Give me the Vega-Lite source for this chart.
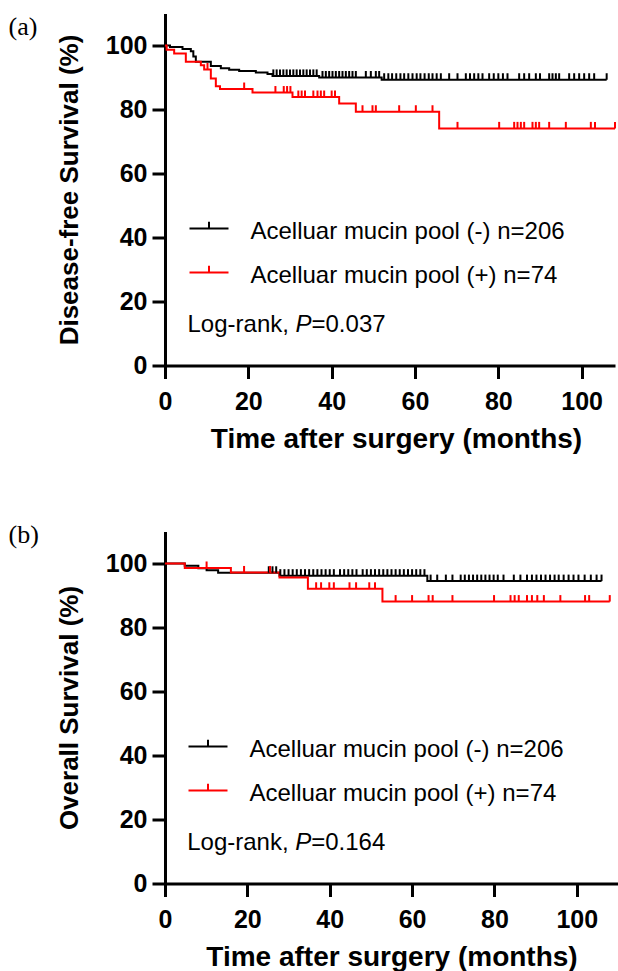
{
  "$schema": "https://vega.github.io/schema/vega-lite/v6.json",
  "padding": {"left": 8, "top": 13.5, "right": 0, "bottom": 0},
  "background": "white",
  "config": {
    "view": {"stroke": null},
    "font": "Liberation Sans",
    "axis": {
      "domainColor": "#000000", "domainWidth": 3, "tickColor": "#000000", "tickWidth": 3, "tickSize": 13,
      "labelFont": "Liberation Sans", "labelFontSize": 25, "labelFontWeight": "bold", "labelColor": "#000000",
      "titleFont": "Liberation Sans", "titleFontWeight": "bold", "titleColor": "#000000",
      "grid": false, "labelFlush": false, "labelOverlap": false
    }
  },
  "datasets": {
    "dfs": [
      {"group": "-", "kind": "step", "month": 0, "surv": 100},
      {"group": "-", "kind": "step", "month": 1.2, "surv": 99.5},
      {"group": "-", "kind": "step", "month": 4.2, "surv": 98.9},
      {"group": "-", "kind": "step", "month": 6.2, "surv": 98.2},
      {"group": "-", "kind": "step", "month": 6.8, "surv": 96.6},
      {"group": "-", "kind": "step", "month": 7.4, "surv": 94.9},
      {"group": "-", "kind": "step", "month": 11, "surv": 93.6},
      {"group": "-", "kind": "step", "month": 13.4, "surv": 92.9},
      {"group": "-", "kind": "step", "month": 15.4, "surv": 92.4},
      {"group": "-", "kind": "step", "month": 17.8, "surv": 92.0},
      {"group": "-", "kind": "step", "month": 21.8, "surv": 91.6},
      {"group": "-", "kind": "step", "month": 24.6, "surv": 91.1},
      {"group": "-", "kind": "step", "month": 25.8, "surv": 90.5},
      {"group": "-", "kind": "step", "month": 37, "surv": 90.0},
      {"group": "-", "kind": "step", "month": 52, "surv": 89.3},
      {"group": "-", "kind": "step", "month": 106, "surv": 89.3},
      {"group": "+", "kind": "step", "month": 0, "surv": 100},
      {"group": "+", "kind": "step", "month": 0.4, "surv": 98.7},
      {"group": "+", "kind": "step", "month": 2.2, "surv": 97.5},
      {"group": "+", "kind": "step", "month": 5.0, "surv": 94.9},
      {"group": "+", "kind": "step", "month": 8.6, "surv": 93.8},
      {"group": "+", "kind": "step", "month": 9.4, "surv": 92.5},
      {"group": "+", "kind": "step", "month": 11, "surv": 89.7},
      {"group": "+", "kind": "step", "month": 12.2, "surv": 87.3},
      {"group": "+", "kind": "step", "month": 13.2, "surv": 86.4},
      {"group": "+", "kind": "step", "month": 21, "surv": 85.3},
      {"group": "+", "kind": "step", "month": 30.6, "surv": 83.9},
      {"group": "+", "kind": "step", "month": 41.8, "surv": 81.9},
      {"group": "+", "kind": "step", "month": 45.8, "surv": 79.3},
      {"group": "+", "kind": "step", "month": 65.8, "surv": 74.1},
      {"group": "+", "kind": "step", "month": 108, "surv": 74.1},
      {"group": "-", "kind": "censor", "month": 26.0, "surv": 90.5},
      {"group": "-", "kind": "censor", "month": 26.8, "surv": 90.5},
      {"group": "-", "kind": "censor", "month": 27.6, "surv": 90.5},
      {"group": "-", "kind": "censor", "month": 28.4, "surv": 90.5},
      {"group": "-", "kind": "censor", "month": 29.2, "surv": 90.5},
      {"group": "-", "kind": "censor", "month": 30.0, "surv": 90.5},
      {"group": "-", "kind": "censor", "month": 30.8, "surv": 90.5},
      {"group": "-", "kind": "censor", "month": 31.6, "surv": 90.5},
      {"group": "-", "kind": "censor", "month": 32.4, "surv": 90.5},
      {"group": "-", "kind": "censor", "month": 33.2, "surv": 90.5},
      {"group": "-", "kind": "censor", "month": 34.0, "surv": 90.5},
      {"group": "-", "kind": "censor", "month": 34.8, "surv": 90.5},
      {"group": "-", "kind": "censor", "month": 35.6, "surv": 90.5},
      {"group": "-", "kind": "censor", "month": 36.4, "surv": 90.5},
      {"group": "-", "kind": "censor", "month": 37.8, "surv": 90.0},
      {"group": "-", "kind": "censor", "month": 38.6, "surv": 90.0},
      {"group": "-", "kind": "censor", "month": 39.4, "surv": 90.0},
      {"group": "-", "kind": "censor", "month": 40.2, "surv": 90.0},
      {"group": "-", "kind": "censor", "month": 41.0, "surv": 90.0},
      {"group": "-", "kind": "censor", "month": 41.8, "surv": 90.0},
      {"group": "-", "kind": "censor", "month": 42.6, "surv": 90.0},
      {"group": "-", "kind": "censor", "month": 43.4, "surv": 90.0},
      {"group": "-", "kind": "censor", "month": 44.2, "surv": 90.0},
      {"group": "-", "kind": "censor", "month": 45.0, "surv": 90.0},
      {"group": "-", "kind": "censor", "month": 45.8, "surv": 90.0},
      {"group": "-", "kind": "censor", "month": 48.2, "surv": 90.0},
      {"group": "-", "kind": "censor", "month": 49.4, "surv": 90.0},
      {"group": "-", "kind": "censor", "month": 50.6, "surv": 90.0},
      {"group": "-", "kind": "censor", "month": 51.4, "surv": 90.0},
      {"group": "-", "kind": "censor", "month": 52.6, "surv": 89.3},
      {"group": "-", "kind": "censor", "month": 53.6, "surv": 89.3},
      {"group": "-", "kind": "censor", "month": 54.5, "surv": 89.3},
      {"group": "-", "kind": "censor", "month": 55.5, "surv": 89.3},
      {"group": "-", "kind": "censor", "month": 56.5, "surv": 89.3},
      {"group": "-", "kind": "censor", "month": 57.4, "surv": 89.3},
      {"group": "-", "kind": "censor", "month": 58.4, "surv": 89.3},
      {"group": "-", "kind": "censor", "month": 59.4, "surv": 89.3},
      {"group": "-", "kind": "censor", "month": 60.4, "surv": 89.3},
      {"group": "-", "kind": "censor", "month": 61.3, "surv": 89.3},
      {"group": "-", "kind": "censor", "month": 62.3, "surv": 89.3},
      {"group": "-", "kind": "censor", "month": 63.3, "surv": 89.3},
      {"group": "-", "kind": "censor", "month": 64.2, "surv": 89.3},
      {"group": "-", "kind": "censor", "month": 65.2, "surv": 89.3},
      {"group": "-", "kind": "censor", "month": 66.2, "surv": 89.3},
      {"group": "-", "kind": "censor", "month": 68.2, "surv": 89.3},
      {"group": "-", "kind": "censor", "month": 70.2, "surv": 89.3},
      {"group": "-", "kind": "censor", "month": 72.2, "surv": 89.3},
      {"group": "-", "kind": "censor", "month": 73.2, "surv": 89.3},
      {"group": "-", "kind": "censor", "month": 74.2, "surv": 89.3},
      {"group": "-", "kind": "censor", "month": 75.2, "surv": 89.3},
      {"group": "-", "kind": "censor", "month": 76.2, "surv": 89.3},
      {"group": "-", "kind": "censor", "month": 77.8, "surv": 89.3},
      {"group": "-", "kind": "censor", "month": 78.9, "surv": 89.3},
      {"group": "-", "kind": "censor", "month": 80.0, "surv": 89.3},
      {"group": "-", "kind": "censor", "month": 81.1, "surv": 89.3},
      {"group": "-", "kind": "censor", "month": 82.2, "surv": 89.3},
      {"group": "-", "kind": "censor", "month": 85.0, "surv": 89.3},
      {"group": "-", "kind": "censor", "month": 86.2, "surv": 89.3},
      {"group": "-", "kind": "censor", "month": 87.4, "surv": 89.3},
      {"group": "-", "kind": "censor", "month": 89.0, "surv": 89.3},
      {"group": "-", "kind": "censor", "month": 90.0, "surv": 89.3},
      {"group": "-", "kind": "censor", "month": 92.2, "surv": 89.3},
      {"group": "-", "kind": "censor", "month": 93.0, "surv": 89.3},
      {"group": "-", "kind": "censor", "month": 93.8, "surv": 89.3},
      {"group": "-", "kind": "censor", "month": 94.6, "surv": 89.3},
      {"group": "-", "kind": "censor", "month": 97.0, "surv": 89.3},
      {"group": "-", "kind": "censor", "month": 98.2, "surv": 89.3},
      {"group": "-", "kind": "censor", "month": 99.4, "surv": 89.3},
      {"group": "-", "kind": "censor", "month": 100.6, "surv": 89.3},
      {"group": "-", "kind": "censor", "month": 101.8, "surv": 89.3},
      {"group": "-", "kind": "censor", "month": 103.0, "surv": 89.3},
      {"group": "-", "kind": "censor", "month": 106.0, "surv": 89.3},
      {"group": "+", "kind": "censor", "month": 10.2, "surv": 92.5},
      {"group": "+", "kind": "censor", "month": 19.0, "surv": 86.4},
      {"group": "+", "kind": "censor", "month": 26.5, "surv": 85.3},
      {"group": "+", "kind": "censor", "month": 28.5, "surv": 85.3},
      {"group": "+", "kind": "censor", "month": 29.3, "surv": 85.3},
      {"group": "+", "kind": "censor", "month": 30.1, "surv": 85.3},
      {"group": "+", "kind": "censor", "month": 32.0, "surv": 83.9},
      {"group": "+", "kind": "censor", "month": 32.8, "surv": 83.9},
      {"group": "+", "kind": "censor", "month": 33.6, "surv": 83.9},
      {"group": "+", "kind": "censor", "month": 35.6, "surv": 83.9},
      {"group": "+", "kind": "censor", "month": 36.6, "surv": 83.9},
      {"group": "+", "kind": "censor", "month": 37.4, "surv": 83.9},
      {"group": "+", "kind": "censor", "month": 38.2, "surv": 83.9},
      {"group": "+", "kind": "censor", "month": 40.0, "surv": 83.9},
      {"group": "+", "kind": "censor", "month": 40.8, "surv": 83.9},
      {"group": "+", "kind": "censor", "month": 47.4, "surv": 79.3},
      {"group": "+", "kind": "censor", "month": 49.8, "surv": 79.3},
      {"group": "+", "kind": "censor", "month": 50.6, "surv": 79.3},
      {"group": "+", "kind": "censor", "month": 56.2, "surv": 79.3},
      {"group": "+", "kind": "censor", "month": 60.2, "surv": 79.3},
      {"group": "+", "kind": "censor", "month": 64.2, "surv": 79.3},
      {"group": "+", "kind": "censor", "month": 70.2, "surv": 74.1},
      {"group": "+", "kind": "censor", "month": 80.2, "surv": 74.1},
      {"group": "+", "kind": "censor", "month": 83.8, "surv": 74.1},
      {"group": "+", "kind": "censor", "month": 84.6, "surv": 74.1},
      {"group": "+", "kind": "censor", "month": 85.4, "surv": 74.1},
      {"group": "+", "kind": "censor", "month": 86.2, "surv": 74.1},
      {"group": "+", "kind": "censor", "month": 88.2, "surv": 74.1},
      {"group": "+", "kind": "censor", "month": 89.0, "surv": 74.1},
      {"group": "+", "kind": "censor", "month": 89.8, "surv": 74.1},
      {"group": "+", "kind": "censor", "month": 92.2, "surv": 74.1},
      {"group": "+", "kind": "censor", "month": 96.2, "surv": 74.1},
      {"group": "+", "kind": "censor", "month": 102.2, "surv": 74.1},
      {"group": "+", "kind": "censor", "month": 103.2, "surv": 74.1},
      {"group": "+", "kind": "censor", "month": 108.0, "surv": 74.1}
    ],
    "os": [
      {"group": "-", "kind": "step", "month": 0, "surv": 100},
      {"group": "-", "kind": "step", "month": 4.8, "surv": 99.3},
      {"group": "-", "kind": "step", "month": 8.1, "surv": 98.5},
      {"group": "-", "kind": "step", "month": 10.1, "surv": 97.9},
      {"group": "-", "kind": "step", "month": 12.9, "surv": 97.1},
      {"group": "-", "kind": "step", "month": 27.8, "surv": 96.2},
      {"group": "-", "kind": "step", "month": 63.7, "surv": 94.5},
      {"group": "-", "kind": "step", "month": 106, "surv": 94.5},
      {"group": "+", "kind": "step", "month": 0, "surv": 100},
      {"group": "+", "kind": "step", "month": 4.8, "surv": 98.6},
      {"group": "+", "kind": "step", "month": 16, "surv": 97.2},
      {"group": "+", "kind": "step", "month": 27.8, "surv": 95.6},
      {"group": "+", "kind": "step", "month": 34.7, "surv": 92.1},
      {"group": "+", "kind": "step", "month": 52.8, "surv": 88.1},
      {"group": "+", "kind": "step", "month": 108, "surv": 88.1},
      {"group": "-", "kind": "censor", "month": 25.2, "surv": 97.1},
      {"group": "-", "kind": "censor", "month": 26.1, "surv": 97.1},
      {"group": "-", "kind": "censor", "month": 27.0, "surv": 97.1},
      {"group": "-", "kind": "censor", "month": 28.0, "surv": 96.2},
      {"group": "-", "kind": "censor", "month": 29.0, "surv": 96.2},
      {"group": "-", "kind": "censor", "month": 30.0, "surv": 96.2},
      {"group": "-", "kind": "censor", "month": 31.0, "surv": 96.2},
      {"group": "-", "kind": "censor", "month": 32.0, "surv": 96.2},
      {"group": "-", "kind": "censor", "month": 33.0, "surv": 96.2},
      {"group": "-", "kind": "censor", "month": 34.0, "surv": 96.2},
      {"group": "-", "kind": "censor", "month": 35.0, "surv": 96.2},
      {"group": "-", "kind": "censor", "month": 36.0, "surv": 96.2},
      {"group": "-", "kind": "censor", "month": 37.0, "surv": 96.2},
      {"group": "-", "kind": "censor", "month": 38.0, "surv": 96.2},
      {"group": "-", "kind": "censor", "month": 39.0, "surv": 96.2},
      {"group": "-", "kind": "censor", "month": 40.0, "surv": 96.2},
      {"group": "-", "kind": "censor", "month": 41.0, "surv": 96.2},
      {"group": "-", "kind": "censor", "month": 42.5, "surv": 96.2},
      {"group": "-", "kind": "censor", "month": 43.5, "surv": 96.2},
      {"group": "-", "kind": "censor", "month": 44.5, "surv": 96.2},
      {"group": "-", "kind": "censor", "month": 45.5, "surv": 96.2},
      {"group": "-", "kind": "censor", "month": 46.5, "surv": 96.2},
      {"group": "-", "kind": "censor", "month": 48.0, "surv": 96.2},
      {"group": "-", "kind": "censor", "month": 49.0, "surv": 96.2},
      {"group": "-", "kind": "censor", "month": 50.0, "surv": 96.2},
      {"group": "-", "kind": "censor", "month": 51.0, "surv": 96.2},
      {"group": "-", "kind": "censor", "month": 52.0, "surv": 96.2},
      {"group": "-", "kind": "censor", "month": 53.0, "surv": 96.2},
      {"group": "-", "kind": "censor", "month": 54.0, "surv": 96.2},
      {"group": "-", "kind": "censor", "month": 55.0, "surv": 96.2},
      {"group": "-", "kind": "censor", "month": 56.0, "surv": 96.2},
      {"group": "-", "kind": "censor", "month": 57.0, "surv": 96.2},
      {"group": "-", "kind": "censor", "month": 58.0, "surv": 96.2},
      {"group": "-", "kind": "censor", "month": 59.0, "surv": 96.2},
      {"group": "-", "kind": "censor", "month": 60.0, "surv": 96.2},
      {"group": "-", "kind": "censor", "month": 61.0, "surv": 96.2},
      {"group": "-", "kind": "censor", "month": 62.0, "surv": 96.2},
      {"group": "-", "kind": "censor", "month": 63.0, "surv": 96.2},
      {"group": "-", "kind": "censor", "month": 64.5, "surv": 94.5},
      {"group": "-", "kind": "censor", "month": 66.1, "surv": 94.5},
      {"group": "-", "kind": "censor", "month": 68.2, "surv": 94.5},
      {"group": "-", "kind": "censor", "month": 69.8, "surv": 94.5},
      {"group": "-", "kind": "censor", "month": 71.8, "surv": 94.5},
      {"group": "-", "kind": "censor", "month": 72.8, "surv": 94.5},
      {"group": "-", "kind": "censor", "month": 73.8, "surv": 94.5},
      {"group": "-", "kind": "censor", "month": 74.8, "surv": 94.5},
      {"group": "-", "kind": "censor", "month": 75.8, "surv": 94.5},
      {"group": "-", "kind": "censor", "month": 76.8, "surv": 94.5},
      {"group": "-", "kind": "censor", "month": 77.8, "surv": 94.5},
      {"group": "-", "kind": "censor", "month": 78.8, "surv": 94.5},
      {"group": "-", "kind": "censor", "month": 79.8, "surv": 94.5},
      {"group": "-", "kind": "censor", "month": 80.8, "surv": 94.5},
      {"group": "-", "kind": "censor", "month": 82.2, "surv": 94.5},
      {"group": "-", "kind": "censor", "month": 84.7, "surv": 94.5},
      {"group": "-", "kind": "censor", "month": 86.3, "surv": 94.5},
      {"group": "-", "kind": "censor", "month": 87.9, "surv": 94.5},
      {"group": "-", "kind": "censor", "month": 89.1, "surv": 94.5},
      {"group": "-", "kind": "censor", "month": 90.2, "surv": 94.5},
      {"group": "-", "kind": "censor", "month": 91.3, "surv": 94.5},
      {"group": "-", "kind": "censor", "month": 92.4, "surv": 94.5},
      {"group": "-", "kind": "censor", "month": 93.5, "surv": 94.5},
      {"group": "-", "kind": "censor", "month": 94.6, "surv": 94.5},
      {"group": "-", "kind": "censor", "month": 95.6, "surv": 94.5},
      {"group": "-", "kind": "censor", "month": 96.8, "surv": 94.5},
      {"group": "-", "kind": "censor", "month": 98.0, "surv": 94.5},
      {"group": "-", "kind": "censor", "month": 99.2, "surv": 94.5},
      {"group": "-", "kind": "censor", "month": 100.4, "surv": 94.5},
      {"group": "-", "kind": "censor", "month": 101.9, "surv": 94.5},
      {"group": "-", "kind": "censor", "month": 103.4, "surv": 94.5},
      {"group": "-", "kind": "censor", "month": 104.8, "surv": 94.5},
      {"group": "-", "kind": "censor", "month": 106.0, "surv": 94.5},
      {"group": "+", "kind": "censor", "month": 10.1, "surv": 98.6},
      {"group": "+", "kind": "censor", "month": 19.2, "surv": 97.2},
      {"group": "+", "kind": "censor", "month": 25.5, "surv": 97.2},
      {"group": "+", "kind": "censor", "month": 36.7, "surv": 92.1},
      {"group": "+", "kind": "censor", "month": 37.9, "surv": 92.1},
      {"group": "+", "kind": "censor", "month": 39.9, "surv": 92.1},
      {"group": "+", "kind": "censor", "month": 41.0, "surv": 92.1},
      {"group": "+", "kind": "censor", "month": 44.8, "surv": 92.1},
      {"group": "+", "kind": "censor", "month": 46.4, "surv": 92.1},
      {"group": "+", "kind": "censor", "month": 49.6, "surv": 92.1},
      {"group": "+", "kind": "censor", "month": 51.0, "surv": 92.1},
      {"group": "+", "kind": "censor", "month": 56.0, "surv": 88.1},
      {"group": "+", "kind": "censor", "month": 60.0, "surv": 88.1},
      {"group": "+", "kind": "censor", "month": 64.0, "surv": 88.1},
      {"group": "+", "kind": "censor", "month": 65.0, "surv": 88.1},
      {"group": "+", "kind": "censor", "month": 69.8, "surv": 88.1},
      {"group": "+", "kind": "censor", "month": 79.9, "surv": 88.1},
      {"group": "+", "kind": "censor", "month": 83.9, "surv": 88.1},
      {"group": "+", "kind": "censor", "month": 84.9, "surv": 88.1},
      {"group": "+", "kind": "censor", "month": 85.9, "surv": 88.1},
      {"group": "+", "kind": "censor", "month": 87.9, "surv": 88.1},
      {"group": "+", "kind": "censor", "month": 89.1, "surv": 88.1},
      {"group": "+", "kind": "censor", "month": 90.4, "surv": 88.1},
      {"group": "+", "kind": "censor", "month": 92.0, "surv": 88.1},
      {"group": "+", "kind": "censor", "month": 96.0, "surv": 88.1},
      {"group": "+", "kind": "censor", "month": 102.0, "surv": 88.1},
      {"group": "+", "kind": "censor", "month": 103.0, "surv": 88.1},
      {"group": "+", "kind": "censor", "month": 108.0, "surv": 88.1}
    ]
  },
  "spacing": 68,
  "resolve": {"scale": {"color": "independent"}, "legend": {"color": "independent"}},
  "vconcat": [
    {
      "width": 450,
      "height": 352,
      "title": {"text": "(a)", "anchor": "start", "frame": "group", "offset": 0, "baseline": "top", "dx": -156.5, "dy": 26, "font": "Liberation Serif", "fontSize": 26, "fontWeight": "normal", "color": "#000000"},
      "encoding": {
        "x": {"field": "month", "type": "quantitative", "scale": {"domain": [0, 108], "nice": false},
          "axis": {"values": [0, 20, 40, 60, 80, 100], "title": "Time after surgery (months)", "titleFontSize": 28, "labelPadding": 11, "titlePadding": 11, "titleX": 231}},
        "y": {"field": "surv", "type": "quantitative", "scale": {"domain": [0, 110], "nice": false},
          "axis": {"values": [0, 20, 40, 60, 80, 100], "title": "Disease-free Survival (%)", "titleFontSize": 26, "labelPadding": 5, "titlePadding": 23}}
      },
      "layer": [
        {
          "data": {"name": "dfs"},
          "transform": [{"filter": "datum.kind == 'step'"}],
          "mark": {"type": "line", "interpolate": "step-after", "strokeWidth": 2},
          "encoding": {
            "color": {"field": "group", "type": "nominal", "scale": {"domain": ["-", "+"], "range": ["#000000", "#ff0000"]},
              "legend": {"orient": "none", "legendX": 23.5, "legendY": 197.5, "title": null, "padding": 0,
                "labelExpr": "datum.label == '-' ? 'Acelluar mucin pool (-) n=206' : 'Acelluar mucin pool (+) n=74'",
                "symbolType": "M-1,-0.15H1M0,-0.15V-0.5", "symbolSize": 1521, "symbolStrokeWidth": 2,
                "labelFont": "Liberation Sans", "labelFontSize": 24, "labelColor": "#000000", "labelOffset": 21, "labelLimit": 500, "rowPadding": 11}}
          }
        },
        {
          "data": {"name": "dfs"},
          "transform": [{"filter": "datum.kind == 'censor'"}],
          "mark": {"type": "point", "shape": "M0,0V-1", "size": 169, "strokeWidth": 2, "filled": false, "opacity": 1},
          "encoding": {
            "color": {"field": "group", "type": "nominal", "scale": {"domain": ["-", "+"], "range": ["#000000", "#ff0000"]}, "legend": null}
          }
        },
        {
          "data": {"values": [{"month": 5.4, "surv": 12.6, "test": "Log-rank,", "stat": "P", "pval": "=0.037"}]},
          "mark": {"type": "text", "align": "left", "baseline": "middle", "font": "Liberation Sans", "fontSize": 24, "color": "#000000"},
          "encoding": {"text": {"field": "test"}}
        },
        {
          "data": {"values": [{"month": 5.4, "surv": 12.6, "test": "Log-rank,", "stat": "P", "pval": "=0.037"}]},
          "mark": {"type": "text", "align": "left", "baseline": "middle", "font": "Liberation Sans", "fontSize": 24, "fontStyle": "italic", "color": "#000000", "dx": 108},
          "encoding": {"text": {"field": "stat"}}
        },
        {
          "data": {"values": [{"month": 5.4, "surv": 12.6, "test": "Log-rank,", "stat": "P", "pval": "=0.037"}]},
          "mark": {"type": "text", "align": "left", "baseline": "middle", "font": "Liberation Sans", "fontSize": 24, "color": "#000000", "dx": 124},
          "encoding": {"text": {"field": "pval"}}
        }
      ]
    },
    {
      "width": 453,
      "height": 352,
      "title": {"text": "(b)", "anchor": "start", "frame": "group", "offset": 0, "baseline": "top", "dx": -156.5, "dy": 16.5, "font": "Liberation Serif", "fontSize": 26, "fontWeight": "normal", "color": "#000000"},
      "encoding": {
        "x": {"field": "month", "type": "quantitative", "scale": {"domain": [0, 110], "nice": false},
          "axis": {"values": [0, 20, 40, 60, 80, 100], "title": "Time after surgery (months)", "titleFontSize": 28, "labelPadding": 11, "titlePadding": 11}},
        "y": {"field": "surv", "type": "quantitative", "scale": {"domain": [0, 110], "nice": false},
          "axis": {"values": [0, 20, 40, 60, 80, 100], "title": "Overall Survival (%)", "titleFontSize": 26, "labelPadding": 5, "titlePadding": 23}}
      },
      "layer": [
        {
          "data": {"name": "os"},
          "transform": [{"filter": "datum.kind == 'step'"}],
          "mark": {"type": "line", "interpolate": "step-after", "strokeWidth": 2},
          "encoding": {
            "color": {"field": "group", "type": "nominal", "scale": {"domain": ["-", "+"], "range": ["#000000", "#ff0000"]},
              "legend": {"orient": "none", "legendX": 22.5, "legendY": 197.5, "title": null, "padding": 0,
                "labelExpr": "datum.label == '-' ? 'Acelluar mucin pool (-) n=206' : 'Acelluar mucin pool (+) n=74'",
                "symbolType": "M-1,-0.15H1M0,-0.15V-0.5", "symbolSize": 1521, "symbolStrokeWidth": 2,
                "labelFont": "Liberation Sans", "labelFontSize": 24, "labelColor": "#000000", "labelOffset": 21, "labelLimit": 500, "rowPadding": 11}}
          }
        },
        {
          "data": {"name": "os"},
          "transform": [{"filter": "datum.kind == 'censor'"}],
          "mark": {"type": "point", "shape": "M0,0V-1", "size": 169, "strokeWidth": 2, "filled": false, "opacity": 1},
          "encoding": {
            "color": {"field": "group", "type": "nominal", "scale": {"domain": ["-", "+"], "range": ["#000000", "#ff0000"]}, "legend": null}
          }
        },
        {
          "data": {"values": [{"month": 5.4, "surv": 12.8, "test": "Log-rank,", "stat": "P", "pval": "=0.164"}]},
          "mark": {"type": "text", "align": "left", "baseline": "middle", "font": "Liberation Sans", "fontSize": 24, "color": "#000000"},
          "encoding": {"text": {"field": "test"}}
        },
        {
          "data": {"values": [{"month": 5.4, "surv": 12.8, "test": "Log-rank,", "stat": "P", "pval": "=0.164"}]},
          "mark": {"type": "text", "align": "left", "baseline": "middle", "font": "Liberation Sans", "fontSize": 24, "fontStyle": "italic", "color": "#000000", "dx": 108},
          "encoding": {"text": {"field": "stat"}}
        },
        {
          "data": {"values": [{"month": 5.4, "surv": 12.8, "test": "Log-rank,", "stat": "P", "pval": "=0.164"}]},
          "mark": {"type": "text", "align": "left", "baseline": "middle", "font": "Liberation Sans", "fontSize": 24, "color": "#000000", "dx": 124},
          "encoding": {"text": {"field": "pval"}}
        }
      ]
    }
  ]
}
